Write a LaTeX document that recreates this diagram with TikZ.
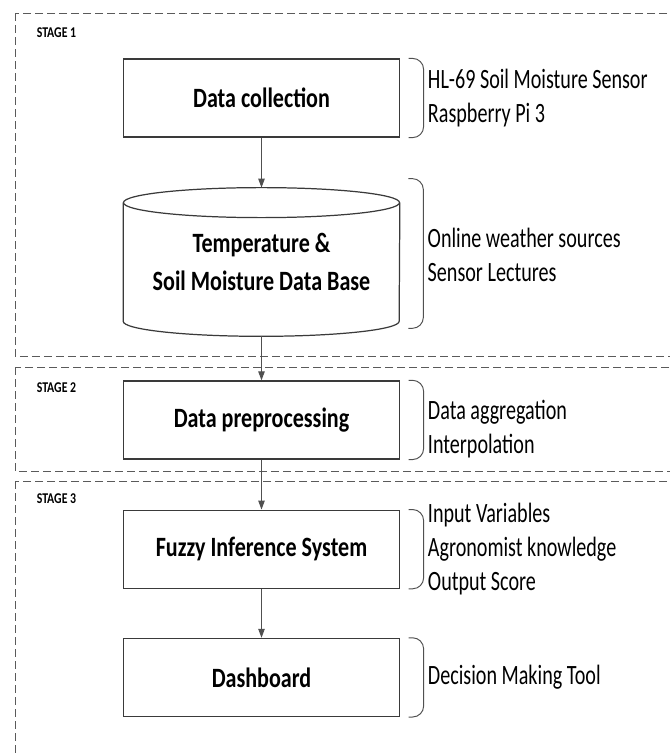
\documentclass[tikz,border=0pt]{standalone}
\usepackage{fontspec}
\setmainfont{Carlito}[FakeStretch=0.72]
\newfontfamily\headfont{Carlito}[FakeStretch=0.79]
\usetikzlibrary{positioning,calc,arrows.meta}
\definecolor{boxgray}{HTML}{3A3A3A}
\definecolor{linegray}{HTML}{505050}
\definecolor{framegray}{HTML}{5A5A5A}

\begin{document}
\begin{tikzpicture}[procbox/.style={draw=boxgray,line width=0.7pt,minimum width=5.52cm,minimum height=1.56cm,inner sep=0pt,font=\headfont\bfseries\fontsize{15.9}{19}\selectfont},
		dbnode/.style={minimum width=5.52cm,minimum height=2.96cm,inner sep=0pt,align=center,font=\headfont\bfseries\fontsize{15.9}{21.5}\selectfont},
		dbline/.style={draw=boxgray,line width=0.7pt},
		notenode/.style={inner sep=0pt,align=left,anchor=west,font=\fontsize{15.9}{19.3}\selectfont},
		stagelabel/.style={inner sep=0pt,anchor=west,font=\headfont\bfseries\fontsize{8.5}{10}\selectfont},
		stageframe/.style={draw=framegray,line width=0.55pt,dash pattern=on 1.6mm off 0.8mm},
		flowarrow/.style={draw=linegray,line width=0.55pt,-{Triangle[length=1.8mm,width=1.3mm]}},
		bracepath/.style={draw=linegray,line width=0.55pt,rounded corners=2.2mm}]
		\useasboundingbox (0,0) rectangle (13.4,-15.06);
		\clip (0,0) rectangle (13.4,-15.06);

		% stage frames, cut by the right edge
		\draw[stageframe] (0.3,-0.26) rectangle (14,-7.12);
		\draw[stageframe] (0.3,-7.34) rectangle (14,-9.42);
		\draw[stageframe] (0.3,-9.62) rectangle (14,-16);

		\node[stagelabel]											(s1)		at (0.73,-0.66)	{STAGE 1};
		\node[stagelabel]											(s2)		at (0.73,-7.75)	{STAGE 2};
		\node[stagelabel]											(s3)		at (0.73,-9.98)	{STAGE 3};

		\node[procbox]												(dc)		at (5.23,-1.96)	{Data collection};
		\node[dbnode,node distance=10mm,below=of dc]				(db)		{Temperature \&\\Soil Moisture Data Base};
		\node[procbox,node distance=8.8mm,below=of db]				(pre)		{Data preprocessing};
		\node[procbox,node distance=10mm,below=of pre]				(fis)		{Fuzzy Inference System};
		\node[procbox,node distance=9.8mm,below=of fis]			(dash)		{Dashboard};

		% data base drawn as a cylinder round db
		\draw[dbline] ($(db.north)+(0,-0.3)$) ellipse [x radius=2.76cm,y radius=0.3cm];
		\draw[dbline] ($(db.north west)+(0,-0.3)$) -- ($(db.south west)+(0,0.3)$) arc[start angle=180,end angle=360,x radius=2.76cm,y radius=0.3cm] -- ($(db.north east)+(0,-0.3)$);

		\node[notenode,right=5.5mm of dc]							(dcnote)	{HL-69 Soil Moisture Sensor\\Raspberry Pi 3};
		\node[notenode,right=5.5mm of db,yshift=1.4mm]				(dbnote)	{Online weather sources\\Sensor Lectures};
		\node[notenode,right=5.5mm of pre,yshift=-1.9mm]			(prenote)	{Data aggregation\\Interpolation};
		\node[notenode,right=5.5mm of fis]							(fisnote)	{Input Variables\\Agronomist knowledge\\Output Score};
		\node[notenode,right=5.5mm of dash]						(dashnote)	{Decision Making Tool};

		\draw[flowarrow] (dc) -- (db);
		\draw[flowarrow] (db) -- (pre);
		\draw[flowarrow] (pre) -- (fis);
		\draw[flowarrow] (fis) -- (dash);

		% braces
		\foreach \n in {dc,pre,fis,dash}
			\draw[bracepath] ($(\n.north east)+(1.7mm,0)$) -| ($(\n.south east)+(4.7mm,0)$) -- ($(\n.south east)+(1.7mm,0)$);
		\draw[bracepath] ($(db.north east)+(1.7mm,1.8mm)$) -| ($(db.south east)+(4.7mm,1.6mm)$) -- ($(db.south east)+(1.7mm,1.6mm)$);
	\end{tikzpicture}
\end{document}
